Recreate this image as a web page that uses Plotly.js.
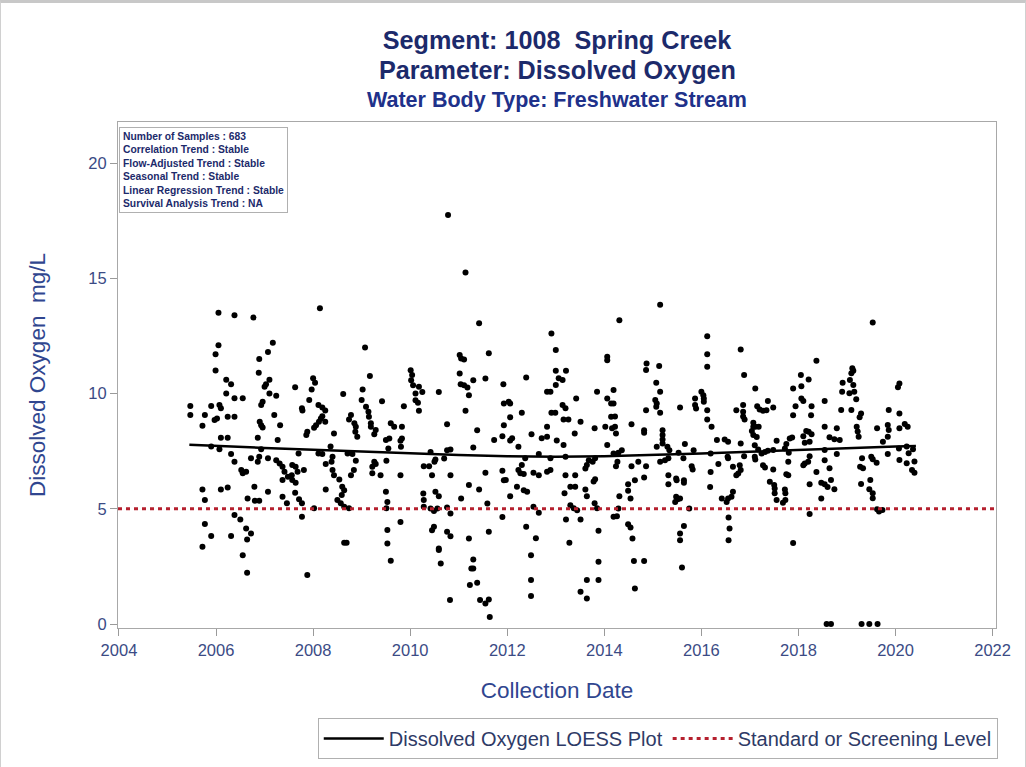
<!DOCTYPE html>
<html>
<head>
<meta charset="utf-8">
<script src="https://cdn.plot.ly/plotly-3.0.1.min.js"></script>
<style>
html,body{margin:0;padding:0;background:#fff;}
#frame{width:1026px;height:767px;box-sizing:border-box;border-top:3px solid #c8c8c8;border-left:1px solid #d0d0d0;border-right:1px solid #d0d0d0;position:relative;}
#chart{position:absolute;left:0;top:-3px;width:1026px;height:767px;}
</style>
</head>
<body>
<div id="frame"><div id="chart"></div></div>
<script>
// Sample collection dates (decimal years) and dissolved oxygen values (mg/L)
const sampleDate = [
2006.05,2006.38,2006.77,2007.17,2006.05,2007.07,2005.99,2006.89,2005.99,2006.88,2006.21,2006.31,2007.10,2007.03,2007.00,2006.21,2006.38,2006.55,2007.10,2007.24,
2006.96,2006.93,2005.47,2005.47,2005.90,2006.07,2006.10,2005.77,2005.97,2006.02,2006.24,2006.38,2007.20,2005.72,2006.90,2006.93,2006.96,2007.32,2006.10,2006.24,
2006.86,2007.27,2005.90,2006.07,2006.31,2006.38,2006.93,2006.89,2006.72,2006.86,2007.07,2007.24,2007.31,2007.37,2007.41,2007.37,2007.48,2006.52,2006.55,2006.62,
2005.72,2006.10,2006.24,2006.79,2007.07,2005.77,2006.65,2006.80,2006.89,2007.37,2007.46,2006.38,2006.50,2005.77,2006.62,2006.72,2005.90,2006.31,2006.64,2005.72,
2006.55,2006.64,
2008.14,2009.07,2009.17,2007.63,2008.00,2008.04,2007.97,2007.92,2007.77,2007.78,2008.11,2008.19,2008.25,2008.19,2008.16,2008.12,2008.06,2008.02,2007.88,2007.86,
2008.25,2008.43,2008.62,2009.02,2009.00,2009.09,2008.78,2008.74,2008.85,2008.88,2008.87,2008.91,2009.14,2009.15,2009.19,2009.19,2009.29,2009.26,2009.42,2009.60,
2009.67,2009.50,2009.57,2009.55,2009.51,2009.26,2009.29,2009.22,2009.22,2009.39,2007.70,2007.57,2007.64,2007.56,2007.68,2007.81,2007.57,2007.64,2007.63,2007.71,
2007.77,2007.77,2008.11,2008.19,2008.26,2008.36,2008.40,2008.38,2008.40,2008.43,2008.54,2008.26,2008.60,2008.64,2008.59,2008.50,2008.57,2008.64,2008.74,2008.02,
2008.71,2008.81,2008.88,2008.84,2008.78,2008.64,2008.69,2007.88,2009.50,2009.51,2009.53,2009.53,2009.60,2009.53,
2010.78,2011.14,2011.42,2011.62,2011.02,2011.05,2011.11,2011.02,2011.04,2011.11,2011.18,2011.30,2011.55,2011.21,2011.14,2011.92,2011.93,2010.01,2010.04,2010.02,
2010.06,2010.18,2010.25,2010.59,2010.11,2010.11,2010.16,2010.18,2009.87,2009.83,2009.83,2009.80,2009.81,2010.76,2011.38,2011.73,2011.90,2011.93,2011.30,2010.42,
2010.52,2010.50,2010.70,2010.76,2010.83,2010.28,2010.39,2010.45,2010.83,2009.80,2011.55,2011.90,2011.93,2011.21,2011.42,2010.27,2010.52,2010.59,2011.05,2011.59,
2010.28,2010.28,2010.42,2010.49,2010.56,2010.76,2010.83,2009.80,2010.45,2010.49,2010.76,2010.83,2011.21,2011.62,2011.90,2010.59,2010.59,2010.63,2011.30,2011.26,
2011.30,2011.23,2011.38,2010.82,2011.44,2011.55,2011.62,2011.64,
2012.91,2013.00,2014.06,2014.06,2013.00,2013.21,2013.06,2013.14,2013.00,2012.39,2012.82,2012.89,2013.85,2013.42,2014.06,2014.14,2012.03,2012.06,2013.14,2013.20,
2012.91,2012.99,2012.30,2012.06,2013.16,2013.26,2013.51,2014.14,2012.82,2013.80,2014.02,2014.16,2012.50,2012.71,2012.82,2013.39,2013.02,2013.16,2012.10,2012.06,
2012.23,2014.06,2013.20,2012.65,2012.37,2012.89,2013.68,2013.76,2013.81,2013.64,2013.61,2012.30,2012.23,2012.27,2012.34,2012.54,2012.65,2012.82,2012.89,2013.20,
2013.40,2013.81,2013.78,2011.97,2012.20,2012.34,2012.41,2013.30,2013.40,2013.61,2013.64,2013.18,2012.06,2012.54,2013.30,2013.37,2013.44,2013.80,2013.85,2012.65,
2014.19,2013.21,2013.51,2012.39,2013.88,2012.59,2013.28,2012.49,2013.88,2012.49,2013.64,2013.88,2012.49,2013.51,2013.64,
2015.15,2014.31,2016.12,2016.12,2016.12,2014.87,2014.86,2015.13,2015.07,2015.15,2016.00,2016.04,2016.05,2016.05,2015.87,2015.87,2015.89,2015.05,2015.08,2015.07,
2015.15,2015.56,2014.86,2016.12,2016.12,2016.21,2014.19,2014.19,2014.22,2014.22,2014.24,2014.56,2014.82,2014.82,2015.20,2015.20,2015.20,2015.20,2015.08,2015.30,
2015.34,2015.66,2015.84,2016.32,2014.36,2014.29,2014.19,2015.15,2015.25,2015.32,2015.53,2015.63,2014.70,2014.56,2014.27,2014.24,2014.86,2015.80,2015.82,2016.19,
2016.19,2016.35,2014.63,2014.49,2014.82,2015.32,2015.32,2015.48,2015.49,2015.64,2015.64,2016.18,2014.31,2014.49,2014.54,2015.48,2015.51,2015.56,2015.46,2016.42,
2014.29,2014.26,2015.75,2014.49,2014.54,2015.64,2014.58,2015.56,2015.56,2014.61,2014.82,2015.60,2014.63,
2016.81,2018.37,2016.88,2018.05,2018.21,2017.11,2017.89,2018.06,2018.06,2018.10,2016.72,2016.86,2016.86,2016.86,2016.89,2017.15,2017.20,2017.27,2017.34,2017.37,
2017.48,2017.94,2017.89,2018.27,2018.26,2018.54,2017.07,2017.07,2017.04,2017.11,2017.18,2017.07,2017.14,2017.10,2017.17,2017.24,2017.31,2017.10,2017.11,2018.54,
2018.16,2018.21,2018.27,2018.10,2018.13,2018.23,2017.82,2017.87,2017.75,2017.72,2017.55,2017.48,2017.37,2017.80,2016.48,2016.55,2016.81,2016.54,2016.55,2016.88,
2017.79,2018.23,2018.20,2018.13,2018.10,2018.54,2018.54,2016.65,2016.79,2016.81,2016.76,2016.72,2017.27,2017.31,2017.48,2017.75,2017.79,2018.37,2018.47,2018.54,
2018.60,2018.23,2017.41,2017.50,2017.51,2017.72,2017.73,2017.73,2017.68,2017.51,2017.55,2018.47,2016.65,2016.62,2016.55,2016.52,2018.23,2016.56,2016.58,2016.56,
2017.89,
2019.53,2019.11,2019.13,2019.09,2019.06,2019.13,2018.91,2018.90,2019.05,2019.15,2019.19,2020.08,2020.05,2018.88,2019.09,2019.29,2019.26,2019.86,2020.08,2018.79,
2018.64,2018.85,2018.74,2019.20,2019.22,2019.24,2019.62,2019.84,2019.86,2019.84,2020.08,2020.19,2020.25,2019.74,2020.07,2020.23,2020.36,2020.27,2018.79,2019.84,
2019.31,2019.50,2019.53,2019.61,2019.27,2019.33,2020.08,2020.23,2020.39,2020.34,2020.39,2018.64,2018.67,2018.74,2019.29,2019.48,2019.46,2019.53,2019.53,2019.62,
2019.66,2019.73,2018.58,2018.67,2019.30,2019.46,2019.63
];
const doValue = [
13.5,13.4,13.3,12.2,12.1,11.8,11.7,11.5,11.0,10.9,10.6,10.4,10.6,10.4,10.3,10.0,9.8,9.8,10.0,9.9,
9.65,9.5,9.46,9.07,9.46,9.5,9.36,9.07,8.85,8.92,8.99,8.99,9.07,8.6,8.78,8.63,8.53,8.63,8.08,8.08,
8.08,7.98,7.7,7.58,7.38,7.04,7.58,7.26,7.19,7.04,7.19,7.11,6.97,6.83,6.61,6.25,6.39,6.68,6.54,6.61,
5.84,5.84,5.93,5.96,5.74,5.38,5.45,5.35,5.35,5.52,5.24,4.73,4.54,4.34,4.15,3.93,3.82,3.82,3.67,3.36,
2.99,2.23,
13.7,12.0,10.76,10.27,10.66,10.47,10.18,9.72,9.36,9.26,9.5,9.4,9.26,9.02,8.92,8.78,8.63,8.52,8.34,8.2,
8.78,8.27,9.98,10.18,9.72,9.43,9.07,8.88,8.71,8.56,8.34,8.13,9.21,8.99,8.71,8.56,8.42,8.24,9.67,8.71,
8.56,7.98,8.05,7.62,7.09,7.04,6.94,6.83,6.54,6.46,7.4,6.9,6.83,6.46,6.61,6.68,6.25,6.13,5.7,5.41,
5.24,4.66,7.4,7.38,6.94,7.7,7.26,7.04,6.68,6.46,6.27,5.84,5.96,5.81,5.6,5.38,5.24,5.09,5.02,5.02,
7.4,7.38,7.09,6.68,6.46,3.53,3.53,2.13,5.74,5.02,4.08,3.5,2.75,5.3,
17.75,15.25,13.05,11.75,11.67,11.52,11.48,10.87,10.4,10.36,10.26,10.58,10.65,9.93,9.25,10.4,9.57,11.01,10.8,10.58,
10.36,10.29,10.07,10.07,10.0,9.71,9.6,9.25,9.45,8.56,8.05,7.95,7.69,8.67,8.41,7.98,8.15,8.63,7.66,7.47,
7.14,7.04,7.18,7.54,7.57,6.85,6.85,6.46,6.46,6.46,6.56,6.65,6.24,6.03,5.84,5.66,5.74,5.55,5.45,5.23,
5.38,5.09,5.01,4.91,5.01,5.06,4.8,4.43,4.07,4.22,4.0,3.81,3.71,4.0,4.65,3.28,3.21,2.63,2.8,2.41,
2.41,1.69,1.79,1.04,1.04,0.89,1.07,0.31,
12.61,11.89,11.6,11.45,10.99,10.99,10.66,10.59,10.37,10.7,10.08,10.08,10.08,9.79,9.79,9.57,9.65,9.57,9.5,9.36,
9.17,9.17,9.17,8.97,8.88,8.88,8.78,8.99,8.56,8.49,8.56,8.49,8.24,8.06,8.13,8.27,7.96,7.77,8.06,7.96,
7.69,7.77,7.26,7.38,7.19,7.19,7.11,7.04,7.19,6.9,6.75,6.9,6.68,6.54,6.51,6.57,6.46,6.61,6.68,6.46,
6.46,6.28,6.18,6.25,5.96,5.81,5.74,5.96,5.96,5.84,5.55,5.67,5.55,5.09,5.16,5.02,4.94,5.24,5.02,4.83,
4.66,4.54,4.54,4.22,4.05,3.72,3.53,2.99,2.7,1.91,1.91,1.91,1.22,1.4,1.11,
13.85,13.18,12.49,11.71,11.16,11.3,11.02,11.19,10.47,10.08,10.08,9.93,9.79,9.64,9.79,9.5,9.35,9.72,9.57,9.43,
9.17,9.4,9.28,9.28,8.88,8.56,10.15,9.57,9.0,8.56,8.27,8.67,8.41,8.3,8.41,8.2,8.01,7.83,7.69,7.69,
7.54,7.81,7.54,7.98,7.54,7.43,7.4,7.04,7.11,7.19,7.43,7.19,7.04,6.85,7.04,6.85,6.85,6.85,6.71,7.4,
6.6,6.94,6.24,6.07,6.36,6.46,6.07,6.32,6.24,6.24,6.13,5.95,5.55,5.78,5.45,5.52,5.41,5.45,5.3,5.45,
5.01,4.68,5.01,4.33,4.19,4.25,3.71,3.93,3.64,2.74,2.74,2.45,1.54,
11.91,11.42,10.8,10.8,10.61,10.22,10.22,10.32,9.79,9.68,9.28,9.5,9.21,9.0,8.88,9.45,9.31,9.25,9.28,9.68,
9.4,9.45,9.06,9.45,9.06,9.68,8.73,8.56,8.38,8.56,8.56,8.2,8.12,7.76,7.57,7.4,7.47,7.26,7.14,8.56,
8.38,8.34,8.24,8.15,7.87,7.91,8.05,8.09,7.81,7.62,7.95,7.55,7.52,7.43,8.01,7.91,7.83,7.26,7.19,7.28,
7.04,7.28,7.04,6.97,6.89,7.55,7.11,6.82,6.89,6.68,6.53,6.46,6.89,6.79,6.71,6.5,6.46,6.6,6.13,6.07,
5.95,6.07,6.17,6.03,5.88,5.84,5.67,5.38,5.26,5.67,5.38,5.45,5.74,5.52,5.45,5.3,4.77,4.62,4.15,3.64,
3.52,
13.08,11.1,10.99,10.88,10.59,10.37,10.47,10.08,10.01,10.08,9.75,10.44,10.27,9.29,9.29,9.14,8.97,9.29,9.14,8.49,
8.1,7.99,8.02,8.56,8.35,8.13,8.49,8.64,8.42,8.13,8.49,8.68,8.56,7.91,7.62,7.7,7.58,7.41,7.38,7.38,
7.19,7.26,7.15,7.0,6.83,6.76,7.12,6.98,7.05,6.68,6.57,6.76,6.25,5.85,6.08,6.25,5.85,5.67,5.46,4.98,
4.88,4.95,0,0,0,0,0
];
// LOESS smooth
const loessDate = [2005.45,2006,2007,2008,2009,2010,2011,2012,2013,2014,2015,2016,2017,2018,2019,2020,2020.42];
const loessValue = [7.78,7.72,7.64,7.56,7.48,7.41,7.34,7.28,7.26,7.28,7.33,7.40,7.48,7.56,7.64,7.70,7.72];
// Standard / screening level
const standardLevel = 5;
const xRange = [2003.98, 2022.07];
const yTicks = [0,5,10,15,20];
const xTicks = [2004,2006,2008,2010,2012,2014,2016,2018,2020,2022];

const statsLines = [
  "Number of Samples : 683",
  "Correlation Trend : Stable",
  "Flow-Adjusted Trend : Stable",
  "Seasonal Trend : Stable",
  "Linear Regression Trend : Stable",
  "Survival Analysis Trend : NA"
];

const FONT = "Liberation Sans, Arial, sans-serif";
const navy = "#1c2a6b";
const axisBlue = "#30468f";

const traces = [
  {
    x: sampleDate, y: doValue, type: "scatter", mode: "markers",
    marker: {color: "#000", size: 6}, showlegend: false, hoverinfo: "x+y"
  },
  {
    x: loessDate, y: loessValue, type: "scatter", mode: "lines",
    line: {color: "#000", width: 2.5}, name: "Dissolved Oxygen LOESS Plot"
  },
  {
    x: xRange, y: [standardLevel, standardLevel], type: "scatter", mode: "lines",
    line: {color: "#b5202e", width: 3, dash: "4px,4px"}, name: "Standard or Screening Level"
  }
];

const layout = {
  width: 1026, height: 767,
  margin: {l: 117, r: 31, t: 122, b: 139, autoexpand: false},
  paper_bgcolor: "rgba(0,0,0,0)", plot_bgcolor: "#fff",
  font: {family: FONT, color: axisBlue},
  title: {
    text: "<b>Segment: 1008  Spring Creek</b>",
    font: {size: 25.2, color: navy, family: FONT},
    x: 0.5, xanchor: "center", xref: "paper",
    y: 1 - 40/767, yanchor: "middle", yref: "container"
  },
  annotations: [
    {text: "<b>Parameter: Dissolved Oxygen</b>", xref: "paper", yref: "paper", x: 0.5, y: (628-70)/506, xanchor: "center", yanchor: "middle", showarrow: false, font: {size: 25.2, color: navy, family: FONT}},
    {text: "<b>Water Body Type: Freshwater Stream</b>", xref: "paper", yref: "paper", x: 0.5, y: (628-100)/506, xanchor: "center", yanchor: "middle", showarrow: false, font: {size: 21.5, color: "#20318a", family: FONT}},
    {text: statsLines.map(s => "<b>" + s + "</b>").join("<br>"), xref: "paper", yref: "paper", x: 0.001, y: 0.99, xanchor: "left", yanchor: "top", align: "left", showarrow: false, bordercolor: "#b0b0b0", borderwidth: 1, borderpad: 3, bgcolor: "#fff", font: {size: 10.3, color: navy, family: FONT}}
  ],
  xaxis: {
    range: xRange, tickvals: xTicks, ticktext: xTicks.map(String), automargin: false,
    ticks: "outside", ticklen: 7, tickcolor: "#9a9a9a", showgrid: false, zeroline: false,
    showline: true, linecolor: "#a8a8a8", linewidth: 1, mirror: true,
    tickfont: {size: 16.5, color: "#3b4b85", family: FONT},
    title: {text: "Collection Date", font: {size: 22.5, color: axisBlue, family: FONT}, standoff: 24}
  },
  yaxis: {
    range: [-0.17, 21.78], tickvals: yTicks, ticktext: yTicks.map(String), automargin: false,
    ticks: "outside", ticklen: 7, tickcolor: "#9a9a9a", showgrid: false, zeroline: false,
    showline: true, linecolor: "#a8a8a8", linewidth: 1, mirror: true,
    tickfont: {size: 16.5, color: "#3b4b85", family: FONT},
    title: {text: "Dissolved Oxygen  mg/L", font: {size: 22.5, color: axisBlue, family: FONT}, standoff: 36}
  },
  legend: {
    orientation: "h", x: 1.002, xanchor: "right", y: (628-718)/506, yanchor: "top",
    bordercolor: "#b0b0b0", borderwidth: 1, bgcolor: "#fff",
    font: {size: 20, color: "#2e3a66", family: FONT}, itemwidth: 60
  },
  showlegend: true
};

Plotly.newPlot("chart", traces, layout, {displayModeBar: false, staticPlot: true});
</script>
</body>
</html>
